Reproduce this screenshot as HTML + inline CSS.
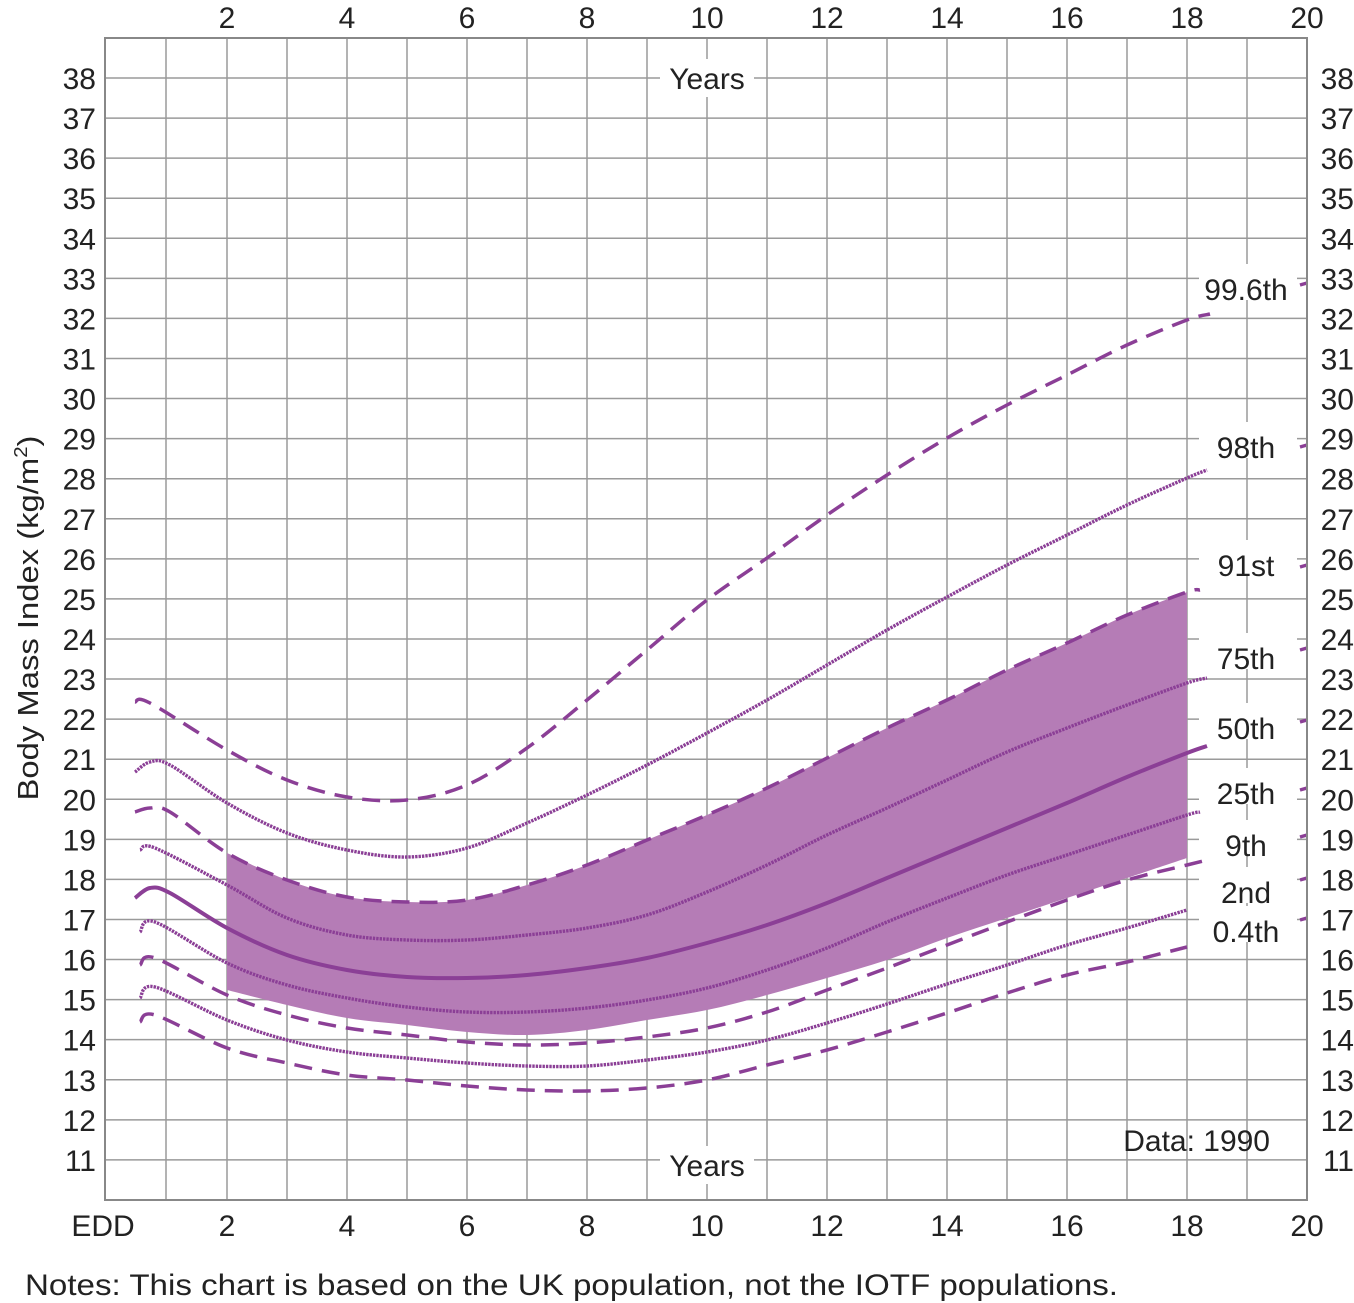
<!DOCTYPE html>
<html><head><meta charset="utf-8">
<style>
html,body{margin:0;padding:0;background:#fff;}
svg{display:block;font-family:"Liberation Sans",Arial,sans-serif;}
</style></head>
<body>
<svg id="s" width="1354" height="1303" viewBox="0 0 1354 1303" xmlns="http://www.w3.org/2000/svg">
<g id="grid" stroke="#9a9a9a" stroke-width="1.5"></g>
<g id="band"></g>
<g id="curves" fill="none" stroke="#8b3f96"></g>
<rect x="105" y="38" width="1202" height="1162" fill="none" stroke="#888" stroke-width="2"/>
<g id="labels" font-size="30" fill="#222"></g>
<text x="25" y="1295" font-size="30" fill="#222" textLength="1093" lengthAdjust="spacingAndGlyphs">Notes: This chart is based on the UK population, not the IOTF populations.</text>
<text transform="translate(38,618) rotate(-90)" text-anchor="middle" font-size="29" fill="#222" textLength="365" lengthAdjust="spacingAndGlyphs">Body Mass Index (kg/m<tspan font-size="18" dy="-11">2</tspan><tspan dy="11">)</tspan></text>
</svg>
<script>
(function(){
var NS="http://www.w3.org/2000/svg";
function el(p,t,a,txt){var e=document.createElementNS(NS,t);for(var k in a)e.setAttribute(k,a[k]);if(txt!=null)e.textContent=txt;p.appendChild(e);return e;}
var g=document.getElementById('grid');
var xs=[105,166,227,287,347,407,467,527,587,647,707,767,827,887,947,1007,1067,1127,1187,1247,1307];
xs.forEach(function(x){el(g,'line',{x1:x,y1:38,x2:x,y2:1200});});
function yb(b){return 78+(38-b)*40.07;}
for(var b=11;b<=38;b++){var y=yb(b);el(g,'line',{x1:105,y1:y,x2:1307,y2:y});}
function cr(pts){var d="M"+pts[0][0]+","+pts[0][1];for(var i=0;i<pts.length-1;i++){var p0=pts[i-1]||pts[i],p1=pts[i],p2=pts[i+1],p3=pts[i+2]||p2;
var c1=[p1[0]+(p2[0]-p0[0])/6,p1[1]+(p2[1]-p0[1])/6],c2=[p2[0]-(p3[0]-p1[0])/6,p2[1]-(p3[1]-p1[1])/6];
d+=" C"+c1.join(",")+" "+c2.join(",")+" "+p2.join(",");}return d;}
var C={
p996:[[135,702],[150,703],[227,750],[287,780],[347,797],[407,800],[467,785],[527,748],[587,700],[647,650],[707,600],[767,558],[827,515],[887,475],[947,438],[1007,405],[1067,375],[1127,345],[1187,320],[1210,314]],
p98:[[135,772],[150,762],[170,765],[227,803],[287,833],[347,850],[407,857],[467,848],[527,823],[587,795],[647,765],[707,733],[767,700],[827,665],[887,630],[947,597],[1007,565],[1067,535],[1127,505],[1187,478],[1207,470]],
p91:[[135,812],[150,808],[170,812],[227,853],[287,880],[347,897],[407,902],[467,900],[527,885],[587,865],[647,840],[707,815],[767,788],[827,758],[887,728],[947,700],[1007,670],[1067,643],[1127,615],[1187,592],[1200,590]],
p75:[[140,850],[155,848],[227,885],[287,918],[347,935],[407,940],[467,940],[527,935],[587,928],[647,915],[707,892],[767,865],[827,835],[887,808],[947,780],[1007,752],[1067,728],[1127,705],[1187,683],[1207,678]],
p50:[[135,898],[150,888],[170,893],[227,928],[287,955],[347,970],[407,977],[467,978],[527,975],[587,968],[647,958],[707,943],[767,925],[827,903],[887,878],[947,853],[1007,828],[1067,803],[1127,777],[1187,753],[1207,746]],
p25:[[140,932],[155,922],[227,963],[287,985],[347,998],[407,1007],[467,1012],[527,1012],[587,1008],[647,1000],[707,988],[767,970],[827,948],[887,922],[947,898],[1007,875],[1067,855],[1127,835],[1187,815],[1200,812]],
p9:[[140,965],[155,958],[227,995],[287,1015],[347,1028],[407,1035],[467,1042],[527,1045],[587,1043],[647,1037],[707,1028],[767,1012],[827,990],[887,968],[947,945],[1007,922],[1067,900],[1127,880],[1187,865],[1207,860]],
p2:[[140,998],[155,987],[227,1020],[287,1040],[347,1052],[407,1058],[467,1063],[527,1066],[587,1066],[647,1060],[707,1052],[767,1040],[827,1023],[887,1004],[947,984],[1007,965],[1067,945],[1127,928],[1187,910]],
p04:[[140,1022],[155,1015],[227,1048],[287,1063],[347,1075],[407,1080],[467,1086],[527,1090],[587,1091],[647,1088],[707,1080],[767,1065],[827,1050],[887,1032],[947,1013],[1007,993],[1067,975],[1127,962],[1187,947]]
};
var topPts=C.p91.filter(function(p){return p[0]>=227&&p[0]<=1187;});
var bot=[[1187,858],[1127,878],[1067,898],[1007,918],[947,938],[887,960],[827,978],[767,995],[707,1010],[647,1020],[587,1030],[527,1035],[467,1032],[407,1025],[347,1018],[287,1005],[227,990]];
var d=cr(topPts)+" L"+bot[0].join(",")+cr(bot).replace(/^M[^ ]+/,"")+" Z";
el(document.getElementById('band'),'path',{d:d,fill:"#b57cb6"});
var cg=document.getElementById('curves');
var dash="18 10",dot="2.4 1";
var sty={p996:[dash,3.5],p98:[dot,3.4],p91:[dash,3.5],p75:[dot,3.4],p50:[null,4],p25:[dot,3.4],p9:[dash,3.5],p2:[dot,3.4],p04:[dash,3.5]};
for(var k in C){var a={d:cr(C[k]),"stroke-width":sty[k][1]};if(sty[k][0])a["stroke-dasharray"]=sty[k][0];el(cg,'path',a);}
var L=document.getElementById('labels');
var labs=[["99.6th",290,283],["98th",448,445],["91st",566,565],["75th",659,648],["50th",729,720],["25th",794,788],["9th",846,835],["2nd",893,878],["0.4th",932,918]];
labs.forEach(function(l){el(L,'rect',{x:1199,y:l[1]-26,width:98,height:36,fill:"#fff"});
el(L,'text',{x:1246,y:l[1]+10,"text-anchor":"middle"},l[0]);
el(cg,'line',{x1:1300,y1:l[2]+2,x2:1307,y2:l[2],"stroke-width":3.5});});
for(var b2=11;b2<=38;b2++){var yy=yb(b2)+11;
el(L,'rect',{x:56,y:yy-26,width:46,height:30,fill:"#fff"});
el(L,'text',{x:96,y:yy,"text-anchor":"end"},b2);
el(L,'text',{x:1354,y:yy,"text-anchor":"end"},b2);}
for(var a2=2;a2<=20;a2+=2){var x=107+60*a2;
el(L,'text',{x:x,y:28,"text-anchor":"middle"},a2);
el(L,'text',{x:x,y:1236,"text-anchor":"middle"},a2);}
el(L,'text',{x:103,y:1236,"text-anchor":"middle"},"EDD");
el(L,'rect',{x:660,y:59,width:94,height:38,fill:"#fff"});
el(L,'text',{x:707,y:89,"text-anchor":"middle"},"Years");
el(L,'rect',{x:660,y:1146,width:94,height:38,fill:"#fff"});
el(L,'text',{x:707,y:1176,"text-anchor":"middle"},"Years");
el(L,'text',{x:1270,y:1151,"text-anchor":"end"},"Data: 1990");
})();
</script>
</body></html>
